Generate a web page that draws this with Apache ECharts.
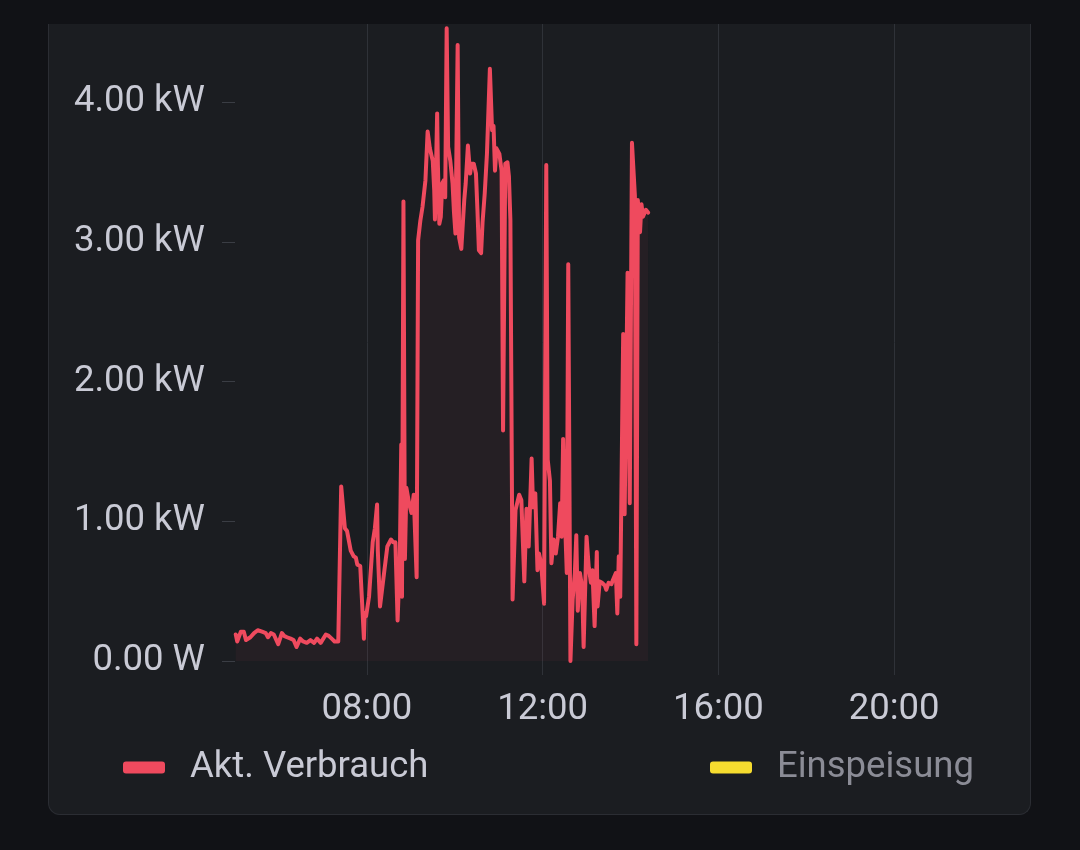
<!DOCTYPE html>
<html><head><meta charset="utf-8">
<script src="https://cdn.jsdelivr.net/npm/echarts@6/dist/echarts.min.js"></script>
<style>
html,body{margin:0;padding:0;background:#111216;width:1080px;height:850px;overflow:hidden;}
#card{position:absolute;left:48px;top:24px;width:981px;height:790px;background:#1b1d21;border:1px solid #2b2d33;border-top:none;border-radius:0 0 12px 12px;}
#chart{position:absolute;left:0;top:0;width:1080px;height:850px;}
</style></head>
<body><div id="card"></div><div id="chart"></div>
<script>
const times = [
 '05:01','05:03','05:08','05:12','05:15','05:21','05:26','05:31','05:37','05:42','05:45','05:49','05:53','05:59',
 '06:04','06:07','06:11','06:16','06:20','06:24','06:29','06:33','06:38','06:43','06:48','06:52','06:57',
 '07:04','07:08','07:12','07:16','07:21','07:25','07:30','07:33','07:38','07:42','07:45','07:47','07:51','07:53','07:56','07:57','07:59',
 '08:03','08:08','08:11','08:14','08:15','08:18','08:24','08:28','08:33','08:36','08:39','08:42','08:45','08:47','08:48','08:50','08:52','08:54','08:58',
 '09:01','09:04','09:08','09:10','09:13','09:16','09:20','09:23','09:26','09:30','09:32','09:33','09:36','09:37','09:39','09:41','09:43','09:45','09:47','09:49','09:51','09:54','09:57','09:59',
 '10:01','10:04','10:06','10:09','10:13','10:15','10:18','10:21','10:23','10:26','10:29','10:31','10:33','10:36','10:38','10:41','10:44','10:48','10:51','10:53','10:55','10:57','10:59',
 '11:01','11:04','11:06','11:09','11:12','11:14','11:16','11:19','11:23','11:28','11:31','11:35','11:38','11:41','11:45','11:47','11:50','11:53','11:55','11:58',
 '12:02','12:05','12:07','12:10','12:12','12:15','12:18','12:21','12:24','12:26','12:28','12:30','12:33','12:35','12:38','12:41','12:44','12:46','12:48','12:51','12:54','12:56',
 '13:00','13:03','13:06','13:08','13:11','13:14','13:15','13:18','13:21','13:25','13:27','13:30','13:34','13:36','13:40','13:42','13:44','13:46','13:50','13:52','13:56','13:59',
 '14:02','14:06','14:08','14:10','14:13','14:15','14:17','14:21','14:24'
];
const verbrauch = [
 0.19,0.14,0.21,0.21,0.15,0.17,0.20,0.22,0.21,0.20,0.17,0.20,0.19,0.12,
 0.20,0.18,0.17,0.16,0.15,0.10,0.16,0.14,0.13,0.15,0.13,0.16,0.13,
 0.19,0.18,0.16,0.14,0.14,1.25,0.95,0.93,0.79,0.75,0.74,0.69,0.68,0.67,0.16,0.34,0.32,
 0.46,0.85,0.95,1.12,0.79,0.39,0.65,0.82,0.87,0.85,0.85,0.29,0.72,1.55,0.46,3.29,0.73,1.24,1.12,
 1.06,1.19,0.60,3.01,3.15,3.25,3.44,3.79,3.67,3.58,3.37,3.16,3.92,3.56,3.13,3.18,3.42,3.44,3.32,4.53,3.68,3.58,3.42,3.21,
 3.06,4.41,3.03,2.95,3.30,3.42,3.69,3.49,3.56,3.56,3.49,3.23,2.94,2.92,3.14,3.35,3.63,4.24,3.80,3.83,3.51,3.67,3.67,
 3.63,3.51,1.65,3.56,3.57,3.47,3.16,0.44,1.08,1.19,1.15,0.57,1.09,0.82,1.45,1.10,1.20,0.65,0.77,0.70,
 0.41,3.55,1.44,1.29,0.70,0.87,0.77,0.89,1.13,0.89,1.59,1.10,0.63,2.84,0.00,0.44,0.63,0.90,0.36,0.63,0.53,0.10,
 0.89,0.67,0.56,0.65,0.25,0.78,0.39,0.57,0.56,0.54,0.51,0.56,0.55,0.58,0.63,0.34,0.75,0.46,2.34,1.05,2.78,1.13,
 3.71,3.33,0.12,3.30,3.07,3.27,3.18,3.23,3.21
];
const einspeisung = [];
const yTicks = [0, 1, 2, 3, 4];
const xTickLabels = ['08:00', '12:00', '16:00', '20:00'];
const seriesNames = ['Akt. Verbrauch', 'Einspeisung'];

const toMin = s => { const p = s.split(':').map(Number); return p[0] * 60 + p[1]; };
const fmt = m => String(Math.floor(m / 60)).padStart(2, '0') + ':' + String(m % 60).padStart(2, '0');

const labelColor = '#c9cad5';
const gridColor = '#2f3238';
const red = '#ef4a5e';
const yellow = '#f6dc2f';
const fs = 36.5;

const chart = echarts.init(document.getElementById('chart'), null, {renderer: 'canvas'});
const legendBase = {
  top: 744, itemWidth: 42, itemHeight: 12, icon: 'roundRect', selectedMode: false,
  textStyle: {color: labelColor, fontSize: fs, fontFamily: 'Roboto', padding: [0, 0, 0, 20]}
};
chart.setOption({
  backgroundColor: 'transparent',
  animation: false,
  textStyle: {fontFamily: 'Roboto'},
  grid: {left: 235, right: 54, top: 24, bottom: 189},
  xAxis: {
    type: 'value', min: toMin('05:00'), max: toMin('23:00'),
    axisLine: {show: false},
    axisTick: {show: true, length: 14, lineStyle: {color: gridColor}, customValues: xTickLabels.map(toMin)},
    axisLabel: {customValues: xTickLabels.map(toMin), formatter: v => fmt(v), color: labelColor, fontSize: fs, fontFamily: 'Roboto', margin: 30},
    splitLine: {show: true, lineStyle: {color: gridColor, width: 1}}
  },
  yAxis: {
    type: 'value', min: 0, max: 4.56,
    axisLine: {show: false},
    axisTick: {show: true, length: 13, lineStyle: {color: '#3a3d44'}, customValues: yTicks},
    axisLabel: {customValues: yTicks, formatter: v => v === 0 ? '0.00 W' : v.toFixed(2) + ' kW', color: labelColor, fontSize: fs, fontFamily: 'Roboto', margin: 30},
    splitLine: {show: false}
  },
  legend: [
    Object.assign({}, legendBase, {left: 118, data: [seriesNames[0]]}),
    Object.assign({}, legendBase, {left: 705, data: [{name: seriesNames[1], textStyle: {color: '#8b8c96'}}]})
  ],
  series: [
    {
      name: seriesNames[0], type: 'line', showSymbol: false, symbol: 'none',
      data: times.map((t, i) => [toMin(t), verbrauch[i]]),
      lineStyle: {width: 4, color: red, join: 'round', cap: 'round'},
      itemStyle: {color: red},
      areaStyle: {color: red, opacity: 0.05}
    },
    {
      name: seriesNames[1], type: 'line', showSymbol: false, symbol: 'none',
      data: einspeisung,
      lineStyle: {color: yellow}, itemStyle: {color: yellow}
    }
  ]
});
</script>
</body></html>
